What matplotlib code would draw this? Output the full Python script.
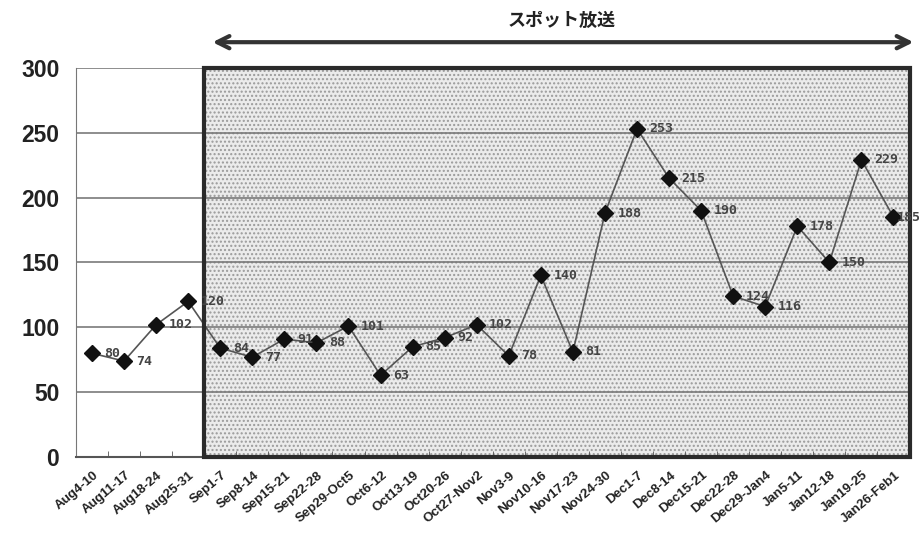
import matplotlib
matplotlib.use("Agg")
import matplotlib.pyplot as plt
from matplotlib.patches import Rectangle
import numpy as np

plt.rcParams['font.family'] = ['Liberation Sans', 'Noto Sans CJK JP', 'DejaVu Sans']

weeks = ['Aug4-10', 'Aug11-17', 'Aug18-24', 'Aug25-31', 'Sep1-7', 'Sep8-14',
         'Sep15-21', 'Sep22-28', 'Sep29-Oct5', 'Oct6-12', 'Oct13-19', 'Oct20-26',
         'Oct27-Nov2', 'Nov3-9', 'Nov10-16', 'Nov17-23', 'Nov24-30', 'Dec1-7',
         'Dec8-14', 'Dec15-21', 'Dec22-28', 'Dec29-Jan4', 'Jan5-11', 'Jan12-18',
         'Jan19-25', 'Jan26-Feb1']
counts = [80, 74, 102, 120, 84, 77, 91, 88, 101, 63, 85, 92, 102, 78, 140,
          81, 188, 253, 215, 190, 124, 116, 178, 150, 229, 185]
spot_start = 4  # first week of the spot campaign
yticks = [0, 50, 100, 150, 200, 250, 300]

fig = plt.figure(figsize=(9.2, 5.34), dpi=100)
ax = fig.add_axes([0.0826, 0.144, 0.906, 0.729])

x = np.arange(len(weeks))
ax.set_xlim(-0.5, len(weeks) - 0.5)
ax.set_ylim(0, 300)

# shaded campaign period
x0 = spot_start - 0.5
x1 = len(weeks) - 0.5
ax.add_patch(Rectangle((x0, 0), x1 - x0, 300, facecolor='#ebebeb',
                       edgecolor='#9a9a9a', hatch='....', linewidth=0, zorder=0.5))
ax.add_patch(Rectangle((x0, 0), x1 - x0, 300, facecolor='none',
                       edgecolor='#2a2a2a', linewidth=3, zorder=5, clip_on=False))

for yv in yticks[1:]:
    ax.axhline(yv, color='#7a7a7a', linewidth=1.2, zorder=1)

ax.plot(x, counts, color='#555555', linewidth=1.2, marker='D', markersize=8,
        markerfacecolor='#111111', markeredgecolor='#111111', zorder=3)
for i, (xi, v) in enumerate(zip(x, counts)):
    dx = 9 if i < len(counts) - 1 else 2
    ax.annotate(f'{v}', (xi, v), xytext=(dx, 0), textcoords='offset points',
                ha='left', va='center', fontsize=9.5, fontweight='bold',
                color='#444444', family='DejaVu Sans Mono', zorder=6,
                annotation_clip=False)

for side in ['top', 'right']:
    ax.spines[side].set_visible(False)
ax.spines['left'].set_color('#777777')
ax.spines['bottom'].set_color('#555555')
ax.spines['bottom'].set_linewidth(1.5)

ax.set_yticks(yticks)
ax.set_yticklabels([str(t) for t in yticks], fontsize=16.5, fontweight='bold',
                   color='#222222')
ax.tick_params(axis='y', length=0, pad=12)

ax.set_xticks(x + 0.15)
ax.set_xticklabels(weeks, rotation=40, ha='right', va='center',
                   rotation_mode='anchor', fontsize=9.5, fontweight='bold',
                   color='#222222')
ax.tick_params(axis='x', length=0, pad=12)
ax.set_xticks(np.arange(-0.5, len(weeks), 1.0), minor=True)
ax.tick_params(axis='x', which='minor', direction='in', length=4, color='#555555')

# campaign arrow and caption
ax.annotate('', xy=(0.228, 0.921), xytext=(0.996, 0.921),
            xycoords='figure fraction', textcoords='figure fraction',
            arrowprops=dict(arrowstyle='<->', color='#333333', lw=3,
                            mutation_scale=22))
fig.text(0.61, 0.962, 'スポット放送', ha='center', va='center', fontsize=13,
         fontweight='bold', family=['Noto Sans CJK JP'], color='#222222')

fig.savefig('out.png', dpi=100)
